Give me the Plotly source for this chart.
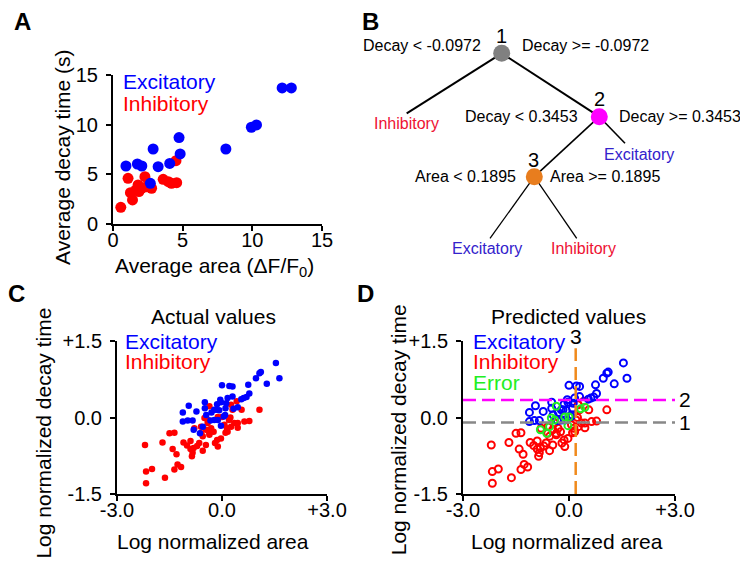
import plotly.graph_objects as go

W, H = 740, 562
FONT = "Liberation Sans, Arial, sans-serif"
BLUE = "#0000ff"
RED = "#ff0000"
GREEN = "#22ee22"

# ---------------- Panel A data (raw averages) ----------------
a_exc_area = [0.93, 1.75, 2.07, 2.88, 3.24, 4.07, 4.74, 4.82, 2.68, 8.1, 9.93, 10.3, 12.14, 12.8]
a_exc_decay = [5.84, 6.04, 5.84, 7.55, 5.77, 6.1, 8.7, 7.05, 4.1, 7.55, 9.74, 9.97, 13.7, 13.7]
a_inh_area = [0.56, 1.08, 1.25, 1.4, 1.64, 1.8, 1.86, 2.05, 2.29, 2.4, 2.77, 3.6, 3.97, 4.2, 4.57, 4.52]
a_inh_decay = [1.68, 4.6, 3.15, 2.42, 3.42, 3.93, 3.27, 3.6, 4.76, 3.75, 3.6, 4.5, 4.26, 4.1, 4.16, 6.37]
a_ticks = [0, 5, 10, 15]

# ---------------- Panels C/D data (log normalized) ----------------
exc_area = [-1.12, -0.95, -1.12, -0.98, -0.84, -0.81, -0.63, -0.55, -0.49, -0.49, -0.33, -0.22,
            -0.17, -0.14, -0.08, -0.03, 0.0, 0.05, 0.09, 0.16, 0.21, 0.3, 0.3, 0.33, 0.45,
            0.62, 0.75, 0.78, 0.97, 1.07, 1.28, 1.54, 1.64, -0.03, -0.12, -0.73, -0.45, 0.1,
            0.12, -0.3, 0.55, 0.7, -0.05, -0.22, 1.11]
exc_decay = [0.1, 0.23, -0.08, -0.06, -0.06, -0.24, -0.31, -0.18, 0.30, 0.18, -0.06, -0.05,
             0.15, 0.26, 0.14, 0.30, 0.63, 0.02, 0.05, 0.38, 0.62, 0.61, 0.41, 0.17, 0.2,
             0.38, 0.64, 0.47, 0.77, 0.87, 0.66, 1.07, 0.77, -0.16, -0.05, 0.12, 0.05, 0.18,
             0.28, 0.1, 0.36, 0.4, 0.35, 0.15, 0.89]
inh_area = [-2.2, -2.17, -2.0, -2.17, -1.7, -1.63, -1.5, -1.36, -1.41, -1.3, -1.36, -1.27,
            -1.17, -1.1, -0.9, -0.9, -0.84, -0.81, -0.71, -0.65, -0.86, -0.46, -0.55, -0.46,
            -0.36, -0.31, -0.41, -0.14, -0.12, -0.03, 0.16, 0.07, 0.26, 0.35, 0.45, 0.64,
            0.78, 0.24, 0.3, 0.42, 0.26, 0.56, 1.07, -0.36, -0.5, -0.12, 0.0, -0.41, -0.6,
            -0.79, -0.24, -0.36, -0.6, 0.1, -0.2, -0.55, -1.0, 0.45, 0.2, 0.14]
inh_decay = [-0.54, -1.06, -1.01, -1.29, -0.49, -1.18, -0.31, -0.30, -0.62, -0.72, -1.02, -0.92,
             -0.97, -0.49, -0.46, -0.62, -0.69, -0.6, -0.56, -0.5, -0.76, -0.54, -0.37, -0.24,
             -0.31, -0.21, -0.11, -0.44, -0.57, -0.41, -0.28, -0.14, -0.18, -0.11, -0.11, -0.08,
             -0.07, 0.0, 0.15, 0.32, 0.25, 0.15, 0.15, 0.22, -0.01, 0.01, 0.01, -0.05, -0.18,
             -0.21, -0.28, -0.34, -0.31, -0.3, -0.5, -0.65, -0.55, -0.2, -0.05, -0.21]
log_ticks_x = [-3, 0, 3]
log_ticks_x_text = ["-3.0", "0.0", "+3.0"]
log_ticks_y = [-1.5, 0, 1.5]
log_ticks_y_text = ["-1.5", "0.0", "+1.5"]

# ---------------- Decision tree thresholds ----------------
t_decay1 = -0.0972
t_decay2 = 0.3453
t_area3 = 0.1895


def predict(area, decay):
    if decay < t_decay1:
        return "inh"
    if decay >= t_decay2:
        return "exc"
    return "exc" if area < t_area3 else "inh"


d_pts = {"exc": ([], []), "inh": ([], []), "err": ([], [])}
for xs, ys, lab in ((inh_area, inh_decay, "inh"), (exc_area, exc_decay, "exc")):
    for x, y in zip(xs, ys):
        p = predict(x, y)
        key = p if p == lab else "err"
        d_pts[key][0].append(x)
        d_pts[key][1].append(y)


def px(x):
    return x / W


def py(y):
    return 1 - y / H


fig = go.Figure()

# Panel A
fig.add_trace(go.Scatter(x=a_inh_area, y=a_inh_decay, mode="markers", xaxis="x", yaxis="y",
                         marker=dict(size=11, color=RED), cliponaxis=False))
fig.add_trace(go.Scatter(x=a_exc_area, y=a_exc_decay, mode="markers", xaxis="x", yaxis="y",
                         marker=dict(size=11, color=BLUE), cliponaxis=False))
# Panel C
fig.add_trace(go.Scatter(x=inh_area, y=inh_decay, mode="markers", xaxis="x2", yaxis="y2",
                         marker=dict(size=6.5, color=RED), cliponaxis=False))
fig.add_trace(go.Scatter(x=exc_area, y=exc_decay, mode="markers", xaxis="x2", yaxis="y2",
                         marker=dict(size=6.5, color=BLUE), cliponaxis=False))
# Panel D
for key, col in (("inh", RED), ("exc", BLUE), ("err", GREEN)):
    fig.add_trace(go.Scatter(x=d_pts[key][0], y=d_pts[key][1], mode="markers", xaxis="x3", yaxis="y3",
                             marker=dict(size=7, color=col, symbol="circle-open", line=dict(width=2, color=col)),
                             cliponaxis=False))

# Tree (panel B) on overlay pixel axis
tree_nodes = {"1": (501.7, 53.3, "#808080"), "2": (599.3, 116.7, "#ff00ff"), "3": (534.3, 176.7, "#e87d1e")}
tree_leaves = {"L1": (406.7, 113.3), "E2": (625, 143.3), "E3": (490, 238.3), "I3": (576.7, 238.3)}
tree_edges = [("1", "L1", 2), ("1", "2", 2), ("2", "E2", 1.6), ("2", "3", 1.6), ("3", "E3", 1.3), ("3", "I3", 1.3)]


def pos(k):
    if k in tree_nodes:
        return tree_nodes[k][:2]
    return tree_leaves[k]


shapes = []
for a, b, w in tree_edges:
    (x0, y0), (x1, y1) = pos(a), pos(b)
    shapes.append(dict(type="line", xref="x4", yref="y4", x0=x0, y0=y0, x1=x1, y1=y1,
                       line=dict(color="black", width=w), layer="below"))

fig.add_trace(go.Scatter(x=[v[0] for v in tree_nodes.values()], y=[v[1] for v in tree_nodes.values()],
                         mode="markers", xaxis="x4", yaxis="y4",
                         marker=dict(size=17, color=[v[2] for v in tree_nodes.values()]), cliponaxis=False))

# Dashed threshold lines in D
shapes += [
    dict(type="line", xref="x3", yref="y3", x0=-3, x1=3, y0=t_decay2, y1=t_decay2,
         line=dict(color="#ff00ff", width=2.5, dash="13px,6px")),
    dict(type="line", xref="x3", yref="y3", x0=-3, x1=3, y0=t_decay1, y1=t_decay1,
         line=dict(color="#888888", width=2.5, dash="13px,6px")),
    dict(type="line", xref="x3", yref="y3", x0=t_area3, x1=t_area3, y0=-1.5, y1=1.36,
         line=dict(color="#f08a1c", width=2.5, dash="13px,6px")),
]

ann = []


def text(x, y, s, size=21, color="black", xanchor="center", angle=0, bold=False):
    ann.append(dict(x=px(x), y=py(y), xref="paper", yref="paper", text=f"<b>{s}</b>" if bold else s,
                    showarrow=False, xanchor=xanchor, yanchor="middle", textangle=angle,
                    font=dict(family=FONT, size=size, color=color)))


# panel letters
text(22.5, 21.5, "A", 24, bold=True)
text(370, 21, "B", 24, bold=True)
text(16.5, 293.5, "C", 24, bold=True)
text(365, 293, "D", 24, bold=True)

# Panel A texts
text(62, 157, "Average decay time (s)", angle=-90)
text(215, 267, "Average area (ΔF/F<sub>0</sub>)")
text(121, 81, "Excitatory", color=BLUE, xanchor="left")
text(121, 103, "Inhibitory", color=RED, xanchor="left")

# Panel B texts
TB = 16
text(501.7, 36, "1", 20)
text(599.3, 99, "2", 20)
text(533.3, 160, "3", 20)
text(483.3, 45.7, f"Decay < {t_decay1}", TB, xanchor="right")
text(520, 45.7, f"Decay >= {t_decay1}", TB, xanchor="left")
text(580, 116.7, f"Decay < {t_decay2}", TB, xanchor="right")
text(616.7, 116.7, f"Decay >= {t_decay2}", TB, xanchor="left")
text(518, 176.7, f"Area < {t_area3}", TB, xanchor="right")
text(548, 176.7, f"Area >= {t_area3}", TB, xanchor="left")
text(406.7, 123.3, "Inhibitory", TB, color="#ee1133")
text(639.3, 155, "Excitatory", TB, color="#3322cc")
text(486.7, 248.3, "Excitatory", TB, color="#3322cc")
text(583.3, 248.3, "Inhibitory", TB, color="#ee1133")

# Panel C texts
text(213.3, 316.7, "Actual values")
text(122.7, 341, "Excitatory", color=BLUE, xanchor="left")
text(122.7, 361.7, "Inhibitory", color=RED, xanchor="left")
text(43.3, 433.3, "Log normalized decay time", angle=-90)
text(213.3, 541.7, "Log normalized area")

# Panel D texts
text(568.3, 316, "Predicted values")
text(470.7, 341, "Excitatory", color=BLUE, xanchor="left")
text(470.7, 361.7, "Inhibitory", color=RED, xanchor="left")
text(470.7, 382.3, "Error", color=GREEN, xanchor="left")
text(398.3, 430, "Log normalized decay time", angle=-90)
text(566.7, 541.7, "Log normalized area")

# threshold labels in D
for lab, yv in (("2", t_decay2), ("1", t_decay1)):
    ann.append(dict(x=3, y=yv, xref="x3", yref="y3", text=lab, showarrow=False, xanchor="left", xshift=2,
                    yanchor="middle", font=dict(family=FONT, size=21, color="black")))
ann.append(dict(x=t_area3, y=1.36, xref="x3", yref="y3", text="3", showarrow=False, xanchor="center",
                yanchor="bottom", yshift=-2, font=dict(family=FONT, size=21, color="black")))

axis_common = dict(showline=True, linecolor="black", linewidth=2, ticks="outside", ticklen=5, tickwidth=2,
                   tickcolor="black", showgrid=False, zeroline=False, automargin=False,
                   tickfont=dict(family=FONT, size=20, color="black"))
xax = dict(ticklabelstandoff=-8, **axis_common)
yax = dict(ticklabelstandoff=4, **axis_common)

fig.update_layout(
    width=W, height=H, autosize=False,
    margin=dict(l=0, r=0, t=0, b=0, pad=0, autoexpand=False),
    paper_bgcolor="white", plot_bgcolor="rgba(0,0,0,0)", showlegend=False,
    xaxis=dict(domain=[px(113), px(322)], range=[0, 15], tickvals=a_ticks, anchor="y", **xax),
    yaxis=dict(domain=[py(224), py(75)], range=[0, 15], tickvals=a_ticks, anchor="x", **yax),
    xaxis2=dict(domain=[px(117), px(327)], range=[-3, 3], tickvals=log_ticks_x, ticktext=log_ticks_x_text,
                anchor="y2", **xax),
    yaxis2=dict(domain=[py(494), py(341)], range=[-1.5, 1.5], tickvals=log_ticks_y, ticktext=log_ticks_y_text,
                anchor="x2", **yax),
    xaxis3=dict(domain=[px(463), px(675)], range=[-3, 3], tickvals=log_ticks_x, ticktext=log_ticks_x_text,
                anchor="y3", **xax),
    yaxis3=dict(domain=[py(494), py(341)], range=[-1.5, 1.5], tickvals=log_ticks_y, ticktext=log_ticks_y_text,
                anchor="x3", **yax),
    xaxis4=dict(domain=[0, 1], range=[0, W], visible=False, anchor="y4", automargin=False),
    yaxis4=dict(domain=[0, 1], range=[H, 0], visible=False, anchor="x4", automargin=False),
    shapes=shapes, annotations=ann,
)

fig.write_html("out.html", config={"displayModeBar": False, "responsive": False},
               post_script="document.body.style.margin='0';")
